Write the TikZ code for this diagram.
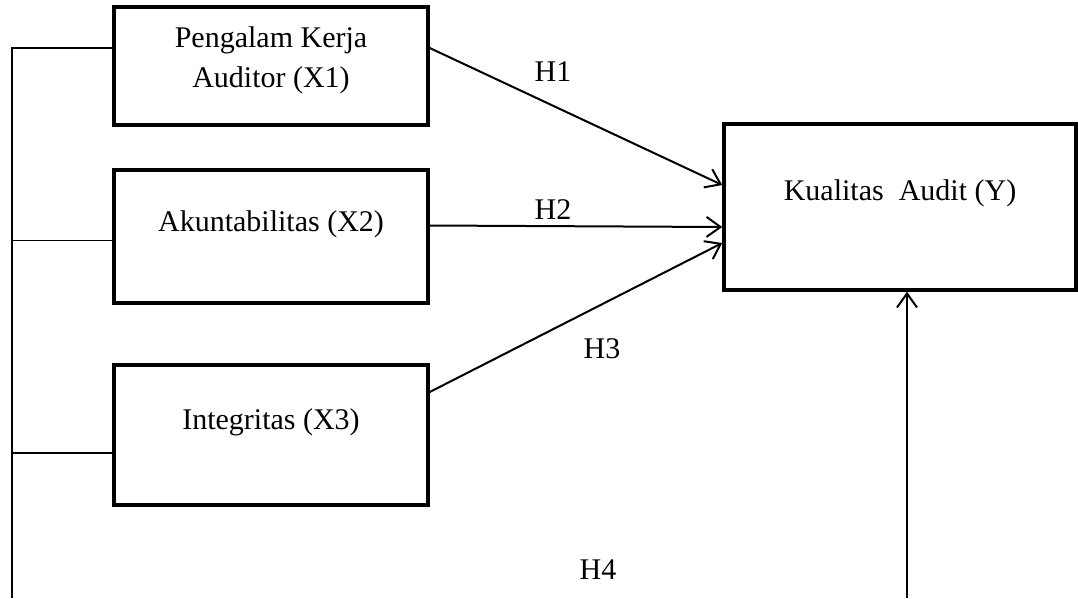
\documentclass[tikz,border=0pt]{standalone}
\usepackage{fontspec}
\setmainfont{Liberation Serif}
\usetikzlibrary{arrows.meta}

\begin{document}
\begin{tikzpicture}[x=1pt,y=-1pt,>={Straight Barb[length=14pt,width=20pt,line width=2pt]},
  font=\fontsize{30}{40}\selectfont,
  box/.style={draw,line width=3.5pt,inner sep=0pt},
  lbl/.style={align=center},
  hyp/.style={->,line width=2pt}]
	  \useasboundingbox (0,0) rectangle (1078,598);
	  % boxes
	  \node[box,minimum width=314,minimum height=118] (x1) at (271,66) {};
	  \node[box,minimum width=314,minimum height=133] (x2) at (271,236.5) {};
	  \node[box,minimum width=314,minimum height=140] (x3) at (271,435) {};
	  \node[box,minimum width=352,minimum height=166] (y) at (900,207) {};
	  \node[lbl] (t1) at ([yshift=6]x1.center) {Pengalam Kerja\\Auditor (X1)};
	  \node[lbl] (t2) at ([yshift=12]x2.center) {Akuntabilitas (X2)};
	  \node[lbl] (t3) at ([yshift=13]x3.center) {Integritas (X3)};
	  \node[lbl] (ty) at ([yshift=14]y.center) {Kualitas\ \ Audit (Y)};
	  % hypotheses
	  \node (h1) at (553,72) {H1};
	  \node (h2) at (553,210) {H2};
	  \node (h3) at (602,349) {H3};
	  \node (h4) at (598,570) {H4};
	  % left bus
	  \coordinate (top) at (12,48);
	  \coordinate (bot) at (12,598);
	  \coordinate (b4) at (907,598);
	  \coordinate (w2) at ([yshift=-4]x2.west);
	  \coordinate (w3) at ([yshift=-18]x3.west);
	  \draw[line width=1.5pt] (bot) -- (top) -- ([yshift=18]x1.west);
	  \draw[line width=1.5pt] (top |- w2) -- (w2);
	  \draw[line width=1.5pt] (top |- w3) -- (w3);
	  % arrows
	  \draw[hyp] ([yshift=18]x1.east) -- ([yshift=22]y.west);
	  \draw[hyp] ([yshift=11]x2.east) -- ([yshift=-20]y.west);
	  \draw[hyp] ([yshift=43]x3.east) -- ([yshift=-36]y.west);
	  \draw[hyp,line width=1.5pt] (b4) -- (b4 |- y.south);
	\end{tikzpicture}
\end{document}
